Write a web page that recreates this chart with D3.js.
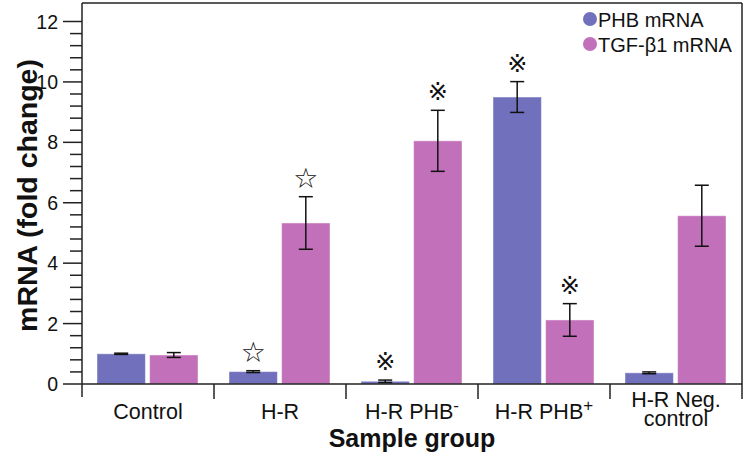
<!DOCTYPE html>
<html><head><meta charset="utf-8">
<script src="https://cdn.jsdelivr.net/npm/d3@7"></script>
<style>body{margin:0;background:#fff} text{font-family:"Liberation Sans",Arial,sans-serif;fill:#111}</style>
</head><body><svg id="c" width="745" height="459"></svg>
<script>
// ---- data ----
const categories = ["Control", "H-R", "H-R PHB^-", "H-R PHB^+", "H-R Neg.|control"];
const seriesNames = ["PHB mRNA", "TGF-β1 mRNA"];
const phbValues = [1.0, 0.41, 0.09, 9.5, 0.37];
const phbErrors = [0.02, 0.03, 0.04, 0.51, 0.03];
const tgfValues = [0.96, 5.33, 8.05, 2.12, 5.57];
const tgfErrors = [0.08, 0.87, 1.01, 0.54, 1.01];
const phbMarks = ["", "☆", "※", "※", ""];
const tgfMarks = ["", "☆", "※", "※", ""];
const yTicks = [0, 2, 4, 6, 8, 10, 12];
const seriesColors = ["#7070bd", "#c270ba"];

(function () {
const svg = d3.select("#c");
const pL = 82, pR = 742, pT = 3, base = 384;
const x = d3.scaleBand().domain(categories).range([pL, pR]).padding(0);
const xs = d3.scaleBand().domain(seriesNames).range([15, 116]).paddingInner(0.08);
const y = d3.scaleLinear().domain([0, 12]).range([base, 21.5]);

const rows = categories.map((c, i) => ({
  cat: c,
  vals: [
    {s: seriesNames[0], v: phbValues[i], e: phbErrors[i], m: phbMarks[i]},
    {s: seriesNames[1], v: tgfValues[i], e: tgfErrors[i], m: tgfMarks[i]}
  ]
}));

const g = svg.append("g");
rows.forEach(r => {
  r.vals.forEach((d, j) => {
    const bx = x(r.cat) + xs(d.s);
    const bw = xs.bandwidth();
    g.append("rect").attr("x", bx).attr("y", y(d.v)).attr("width", bw).attr("height", base - y(d.v))
      .attr("fill", seriesColors[j]).attr("stroke", "rgba(255,255,255,0.45)").attr("stroke-width", 1);
    const cx = bx + bw / 2;
    const eg = g.append("g").attr("stroke", "#111").attr("stroke-width", 1.5);
    eg.append("line").attr("x1", cx).attr("x2", cx).attr("y1", y(d.v + d.e)).attr("y2", y(d.v - d.e));
    [d.v + d.e, d.v - d.e].forEach(t => eg.append("line").attr("x1", cx - 7).attr("x2", cx + 7).attr("y1", y(t)).attr("y2", y(t)));
    if (d.m) {
      g.append("text").attr("x", cx).attr("y", y(d.v + d.e) - 18)
        .attr("text-anchor", "middle").attr("dominant-baseline", "central")
        .style("font-family", "'DejaVu Sans'")
        .style("font-size", d.m === "☆" ? "28px" : "24px").text(d.m);
    }
  });
});

const ax = svg.append("g").attr("stroke", "#222").attr("stroke-width", 1.5).attr("fill", "none");
ax.append("line").attr("x1", pL).attr("x2", pL).attr("y1", pT).attr("y2", 397);
ax.append("line").attr("x1", pL).attr("x2", pR).attr("y1", pT).attr("y2", pT);
ax.append("line").attr("x1", pR).attr("x2", pR).attr("y1", pT).attr("y2", 399);
ax.append("line").attr("x1", pL).attr("x2", pR).attr("y1", base).attr("y2", base);
categories.slice(1).forEach(c => ax.append("line").attr("x1", x(c)).attr("x2", x(c)).attr("y1", base).attr("y2", 399));

const minor = d3.range(0, 12.001, 0.4).filter(v => !yTicks.some(t => Math.abs(t - v) < 1e-6));
minor.forEach(v => ax.append("line").attr("x1", pL - 12).attr("x2", pL).attr("y1", y(v)).attr("y2", y(v)));
yTicks.forEach(v => {
  ax.append("line").attr("x1", pL - 19).attr("x2", pL).attr("y1", y(v)).attr("y2", y(v));
  svg.append("text").attr("x", 58).attr("y", y(v)).attr("text-anchor", "end").attr("dominant-baseline", "central")
    .style("font-size", "19.5px").text(v);
});

categories.forEach(c => {
  const cx = x(c) + x.bandwidth() / 2;
  const lines = c.split("|");
  const y0 = lines.length > 1 ? 407 : 419;
  const t = svg.append("text").attr("x", cx).attr("y", y0).attr("text-anchor", "middle").style("font-size", "21.5px");
  lines.forEach((ln, k) => {
    const parts = ln.split("^");
    t.append("tspan").attr("x", cx).attr("y", y0 + k * 19).text(parts[0]);
    if (parts[1]) t.append("tspan").attr("dy", -8).style("font-size", "17px").text(parts[1]);
  });
});

svg.append("text").attr("x", (pL + pR) / 2).attr("y", 447).attr("text-anchor", "middle")
  .style("font-size", "25px").style("font-weight", "bold").text("Sample group");
svg.append("text").attr("transform", `translate(37,${(pT + base) / 2 + 2}) rotate(-90)`).attr("text-anchor", "middle")
  .style("font-size", "28.5px").style("font-weight", "bold").text("mRNA (fold change)");

seriesNames.forEach((s, i) => {
  svg.append("circle").attr("cx", 590).attr("cy", 19 + i * 25).attr("r", 7).attr("fill", seriesColors[i]);
  svg.append("text").attr("x", 598).attr("y", 20 + i * 25).attr("dominant-baseline", "central").style("font-size", "20px").text(s);
});
})();
</script></body></html>
